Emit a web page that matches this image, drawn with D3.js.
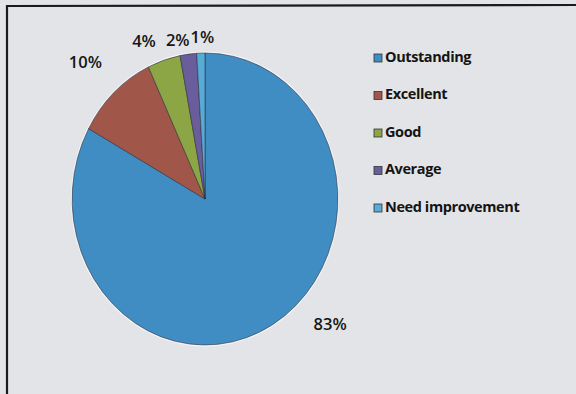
<!DOCTYPE html>
<html><head><meta charset="utf-8">
<script src="https://cdn.jsdelivr.net/npm/d3@7"></script>
<style>html,body{margin:0;padding:0;background:#e2e4e7;}svg{display:block;}</style>
</head><body><svg id="c" width="576" height="394"></svg>
<script>
const categories = ["Outstanding","Excellent","Good","Average","Need improvement"];
const values = [83, 10, 4, 2, 1];
const labels = ["83%","10%","4%","2%","1%"];
const colors = ["#3f8dc3","#a0574a","#8ca645","#6a5d9c","#56acd6"];

const W = 576, H = 394;
const svg = d3.select("#c");
svg.append("rect").attr("width",W).attr("height",H).attr("fill","#e2e4e7");
// frame
svg.append("path").attr("d",`M7,${H} L7,6 L${W},5`).attr("fill","none").attr("stroke","#1b1b1b").attr("stroke-width",2.2);

const cx = 205, cy = 199, R = 146, sx = 0.91;
const pie = d3.pie().sort(null).value(d=>d)(values);
const arc = d3.arc().innerRadius(0).outerRadius(R);
const g = svg.append("g").attr("transform",`translate(${cx},${cy}) scale(${sx},1)`);
g.append("circle").attr("r",R+1.5).attr("fill","#f4f6f8");
g.selectAll("path.s").data(pie).join("path").attr("class","s")
  .attr("d",arc).attr("fill",(d,i)=>colors[i])
  .attr("stroke","#2b2a38").attr("stroke-opacity",0.7).attr("stroke-width",0.8).attr("vector-effect","non-scaling-stroke");

// labels: outside along mid-angle, with nudges for best-fit placement
const nudge = [[51,-11],[-20,-19],[-16,-4],[-9,1],[2,-1]];
const lr = R + 14;
const lab = svg.append("g");
pie.forEach((d,i)=>{
  const a = (d.startAngle + d.endAngle)/2;
  const x = cx + Math.sin(a)*lr*sx + nudge[i][0];
  const y = cy - Math.cos(a)*lr + nudge[i][1];
  lab.append("text").attr("x",x).attr("y",y).attr("text-anchor","middle")
    .attr("dominant-baseline","middle")
    .attr("font-family","Open Sans, sans-serif").attr("font-weight",600)
    .attr("font-size",16.5).attr("fill","#161616").text(labels[i]);
});

// legend
const ly = d3.scalePoint().domain(categories).range([58,208]);
const leg = svg.append("g");
categories.forEach((c,i)=>{
  const y = ly(c);
  leg.append("rect").attr("x",374).attr("y",y-4).attr("width",8).attr("height",8)
    .attr("fill",colors[i]).attr("stroke","#333").attr("stroke-width",0.8);
  leg.append("text").attr("x",385).attr("y",y).attr("dominant-baseline","middle")
    .attr("font-family","Open Sans, sans-serif").attr("font-weight",700)
    .attr("font-size",14.5).attr("letter-spacing",-0.4).attr("fill","#141414").text(c);
});
</script></body></html>
